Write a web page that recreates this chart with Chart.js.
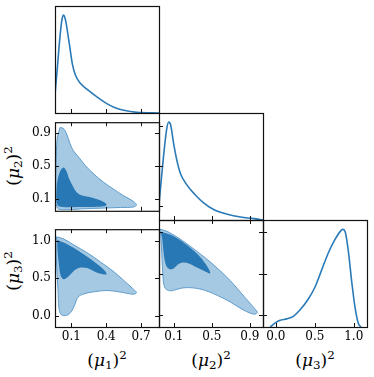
<!DOCTYPE html>
<html>
<head>
<meta charset="utf-8">
<script src="https://cdn.jsdelivr.net/npm/chart.js@4.4.0/dist/chart.umd.min.js"></script>
<style>
  body { margin: 0; background: #fff; width: 374px; height: 377px; position: relative; overflow: hidden; font-family: "DejaVu Serif", serif; }
  canvas { position: absolute; }
  .lab { position: absolute; font-size: 17px; line-height: 1; white-space: nowrap; color: #000; }
  .lab sub { font-size: 0.7em; vertical-align: -0.3em; }
  .lab sup { font-size: 0.7em; vertical-align: 0.6em; }
  .xl { transform: translate(-50%, -50%); }
  .yl { transform: translate(-50%, -50%) rotate(-90deg); }
</style>
</head>
<body>
<div class="lab xl" style="left:107px;top:361px">(<i>μ</i><sub>1</sub>)<sup>2</sup></div>
<div class="lab xl" style="left:211px;top:361px">(<i>μ</i><sub>2</sub>)<sup>2</sup></div>
<div class="lab xl" style="left:315px;top:361px">(<i>μ</i><sub>3</sub>)<sup>2</sup></div>
<div class="lab yl" style="left:14px;top:166px">(<i>μ</i><sub>2</sub>)<sup>2</sup></div>
<div class="lab yl" style="left:14px;top:271px">(<i>μ</i><sub>3</sub>)<sup>2</sup></div>
<script>
// tick values
const mu1Ticks = [0.1, 0.4, 0.7];
const mu2Ticks = [0.1, 0.5, 0.9];
const mu3Ticks = [0.0, 0.5, 1.0];

// axis limits
const mu1Lim = [-0.04, 0.854];
const mu2XLim = [-0.057, 1.039];
const mu2YLim = [-0.041, 1.031];
const mu3XLim = [-0.165, 1.17];
const mu3YLim = [-0.151, 1.151];
const densLim = [0, 1];

// 1D marginals [value, relative density]
const mu1Marginal = [[-0.04, 0.17], [-0.02, 0.42], [0.0, 0.68], [0.018, 0.86], [0.031, 0.915], [0.048, 0.88],
  [0.08, 0.67], [0.109, 0.46], [0.137, 0.35], [0.18, 0.275], [0.237, 0.22], [0.323, 0.148], [0.409, 0.085],
  [0.466, 0.054], [0.551, 0.025], [0.666, 0.006], [0.854, 0]];
const mu2Marginal = [[-0.057, 0.148], [-0.015, 0.543], [0.02, 0.826], [0.044, 0.915], [0.065, 0.89], [0.1, 0.7],
  [0.135, 0.543], [0.17, 0.432], [0.229, 0.338], [0.316, 0.243], [0.42, 0.155], [0.524, 0.095], [0.663, 0.054],
  [0.803, 0.028], [0.942, 0.013], [1.039, 0]];
const mu3Marginal = [[-0.072, 0], [-0.008, 0.038], [0.055, 0.063], [0.14, 0.076], [0.225, 0.1], [0.309, 0.158],
  [0.415, 0.259], [0.5, 0.369], [0.585, 0.527], [0.669, 0.685], [0.754, 0.811], [0.83, 0.896], [0.86, 0.912],
  [0.89, 0.89], [0.932, 0.7], [0.975, 0.416], [1.017, 0.18], [1.059, 0.032], [1.093, 0]];

// 2D contours, outer (light) and inner (dark)
const mu1mu2Outer = [[0.003, 0.967], [0.031, 0.957], [0.06, 0.89], [0.089, 0.772], [0.117, 0.688], [0.166, 0.604],
  [0.223, 0.503], [0.294, 0.403], [0.38, 0.302], [0.466, 0.218], [0.551, 0.14], [0.623, 0.083], [0.66, 0.033],
  [0.637, 0.006], [0.523, -0.001], [0.38, -0.008], [0.18, -0.018], [0.037, -0.028], [-0.02, -0.008],
  [-0.034, 0.2], [-0.031, 0.537], [-0.02, 0.84]];
const mu1mu2Inner = [[0.037, 0.487], [0.06, 0.436], [0.08, 0.352], [0.109, 0.268], [0.146, 0.184], [0.194, 0.144],
  [0.266, 0.124], [0.337, 0.093], [0.386, 0.06], [0.403, 0.033], [0.38, 0.013], [0.294, 0.006], [0.151, 0.006],
  [0.023, 0.006], [-0.02, 0.033], [-0.026, 0.234], [-0.009, 0.386], [0.014, 0.463]];
const mu1mu3Outer = [[-0.026, 1.049], [0.037, 1.02], [0.123, 0.939], [0.237, 0.837], [0.351, 0.714], [0.466, 0.584],
  [0.551, 0.469], [0.623, 0.367], [0.66, 0.306], [0.631, 0.286], [0.523, 0.314], [0.409, 0.335], [0.294, 0.318],
  [0.209, 0.29], [0.157, 0.245], [0.129, 0.143], [0.1, 0.053], [0.06, 0.004], [0.014, 0.012], [-0.006, 0.102],
  [-0.014, 0.347], [-0.026, 0.673], [-0.031, 0.959]];
const mu1mu3Inner = [[-0.02, 1.008], [0.066, 0.951], [0.18, 0.845], [0.294, 0.722], [0.38, 0.612], [0.403, 0.551],
  [0.351, 0.559], [0.294, 0.592], [0.237, 0.633], [0.18, 0.641], [0.137, 0.616], [0.094, 0.551], [0.054, 0.494],
  [0.031, 0.486], [0.009, 0.531], [-0.009, 0.714], [-0.02, 0.918]];
const mu2mu3Outer = [[-0.05, 1.041], [0.037, 1.008], [0.177, 0.91], [0.35, 0.763], [0.524, 0.6], [0.698, 0.408],
  [0.837, 0.224], [0.935, 0.094], [0.977, 0.029], [0.949, 0.004], [0.837, 0.053], [0.698, 0.151], [0.559, 0.233],
  [0.42, 0.298], [0.281, 0.327], [0.177, 0.322], [0.107, 0.298], [0.055, 0.29], [0.01, 0.318], [-0.011, 0.408],
  [-0.025, 0.673], [-0.039, 0.98]];
const mu2mu3Inner = [[-0.039, 1.008], [0.072, 0.967], [0.211, 0.869], [0.35, 0.735], [0.437, 0.612], [0.483, 0.502],
  [0.42, 0.531], [0.333, 0.58], [0.263, 0.62], [0.194, 0.633], [0.142, 0.608], [0.1, 0.563], [0.058, 0.551],
  [0.02, 0.592], [-0.004, 0.714], [-0.025, 0.939]];

const X0 = [55, 159, 263];
const Y0 = [6, 113, 220];
const PW = 104, PH = 107, PAD = 2;
const LINE = '#2a7ab8';

const pts = arr => arr.map(([x, y]) => ({ x, y }));

function marginal(arr) {
  return { data: pts(arr), showLine: true, pointRadius: 0, borderColor: LINE, borderWidth: 1.6,
    cubicInterpolationMode: 'monotone', fill: false };
}

function contour(arr, fillColor, edge, width, order) {
  return { data: pts(arr.concat([arr[0]])), showLine: true, pointRadius: 0, borderColor: edge,
    borderWidth: width, backgroundColor: fillColor, fill: 'shape', tension: 0.35, order: order };
}

function axis(ax, lim, ticks, labels, size) {
  return {
    type: 'linear', position: ax === 'x' ? 'bottom' : 'left', axis: ax, min: lim[0], max: lim[1],
    grid: { display: false, drawTicks: false }, border: { display: false },
    ticks: { display: labels, autoSkip: false, maxRotation: 0, padding: ax === 'x' ? 3 : 4, color: '#000',
      font: { family: 'DejaVu Serif', size: 12 }, callback: v => v.toFixed(1) },
    afterBuildTicks: s => { s.ticks = ticks.map(v => ({ value: v })); },
    afterFit: s => { if (ax === 'x') s.height = size; else s.width = size; }
  };
}

// frame box + inward tick marks
const frameTicks = {
  id: 'frameTicks',
  afterDatasetsDraw(chart, args, o) {
    const { ctx, chartArea: a, scales } = chart;
    const L = 4;
    ctx.save();
    ctx.strokeStyle = '#111';
    ctx.lineWidth = 1;
    ctx.beginPath();
    for (const t of scales.x.ticks) {
      const p = Math.round(scales.x.getPixelForValue(t.value)) + 0.5;
      if (o.bottom) { ctx.moveTo(p, a.bottom); ctx.lineTo(p, a.bottom - L); }
      if (o.top) { ctx.moveTo(p, a.top); ctx.lineTo(p, a.top + L); }
    }
    const ys = o.left ? scales[o.left] : null;
    if (ys) {
      for (const t of ys.ticks) {
        const p = Math.round(ys.getPixelForValue(t.value)) + 0.5;
        ctx.moveTo(a.left, p); ctx.lineTo(a.left + L, p);
        if (o.right) { ctx.moveTo(a.right, p); ctx.lineTo(a.right - L, p); }
      }
    }
    ctx.stroke();
    ctx.lineWidth = 1.2;
    ctx.strokeRect(a.left + 0.5, a.top + 0.5, a.right - a.left, a.bottom - a.top);
    ctx.restore();
  }
};

function panel(r, c, spec) {
  const cv = document.createElement('canvas');
  const padL = c === 0 ? 55 : PAD;
  const padB = r === 2 ? 22 : 0;
  cv.width = padL + PW + PAD;
  cv.height = PAD + PH + padB + PAD;
  cv.style.left = (X0[c] - padL) + 'px';
  cv.style.top = (Y0[r] - PAD) + 'px';
  document.body.appendChild(cv);

  const scales = {
    x: axis('x', spec.xLim, spec.xTicks, r === 2, padB),
    y: axis('y', spec.yLim, spec.yTicks, c === 0 && r > 0, c === 0 ? 55 : 0)
  };
  if (spec.rowLim) scales.yr = axis('y', spec.rowLim, spec.rowTicks, false, 0);

  new Chart(cv, {
    type: 'scatter',
    data: { datasets: spec.datasets },
    options: {
      responsive: false, animation: false, devicePixelRatio: 1,
      layout: { padding: { left: c === 0 ? 0 : PAD, right: PAD, top: PAD, bottom: PAD } },
      plugins: { legend: { display: false }, tooltip: { enabled: false }, frameTicks: spec.marks },
      scales: scales
    },
    plugins: [frameTicks]
  });
}

const LIGHT = '#a6c9e3', EDGE = '#5f9ccb', DARK = '#2878b5';
const box = { bottom: true, top: true, left: 'y', right: true };

panel(0, 0, { xLim: mu1Lim, xTicks: mu1Ticks, yLim: densLim, yTicks: [],
  datasets: [marginal(mu1Marginal)], marks: { bottom: true } });

panel(1, 0, { xLim: mu1Lim, xTicks: mu1Ticks, yLim: mu2YLim, yTicks: mu2Ticks, marks: box,
  datasets: [contour(mu1mu2Inner, DARK, DARK, 0, 1), contour(mu1mu2Outer, LIGHT, EDGE, 1, 2)] });

panel(1, 1, { xLim: mu2XLim, xTicks: mu2Ticks, yLim: densLim, yTicks: [], rowLim: mu2YLim, rowTicks: mu2Ticks,
  datasets: [marginal(mu2Marginal)], marks: { bottom: true, left: 'yr' } });

panel(2, 0, { xLim: mu1Lim, xTicks: mu1Ticks, yLim: mu3YLim, yTicks: mu3Ticks, marks: box,
  datasets: [contour(mu1mu3Inner, DARK, DARK, 0, 1), contour(mu1mu3Outer, LIGHT, EDGE, 1, 2)] });

panel(2, 1, { xLim: mu2XLim, xTicks: mu2Ticks, yLim: mu3YLim, yTicks: mu3Ticks, marks: box,
  datasets: [contour(mu2mu3Inner, DARK, DARK, 0, 1), contour(mu2mu3Outer, LIGHT, EDGE, 1, 2)] });

panel(2, 2, { xLim: mu3XLim, xTicks: mu3Ticks, yLim: densLim, yTicks: [], rowLim: mu3YLim, rowTicks: mu3Ticks,
  datasets: [marginal(mu3Marginal)], marks: { bottom: true, left: 'yr' } });
</script>
</body>
</html>
